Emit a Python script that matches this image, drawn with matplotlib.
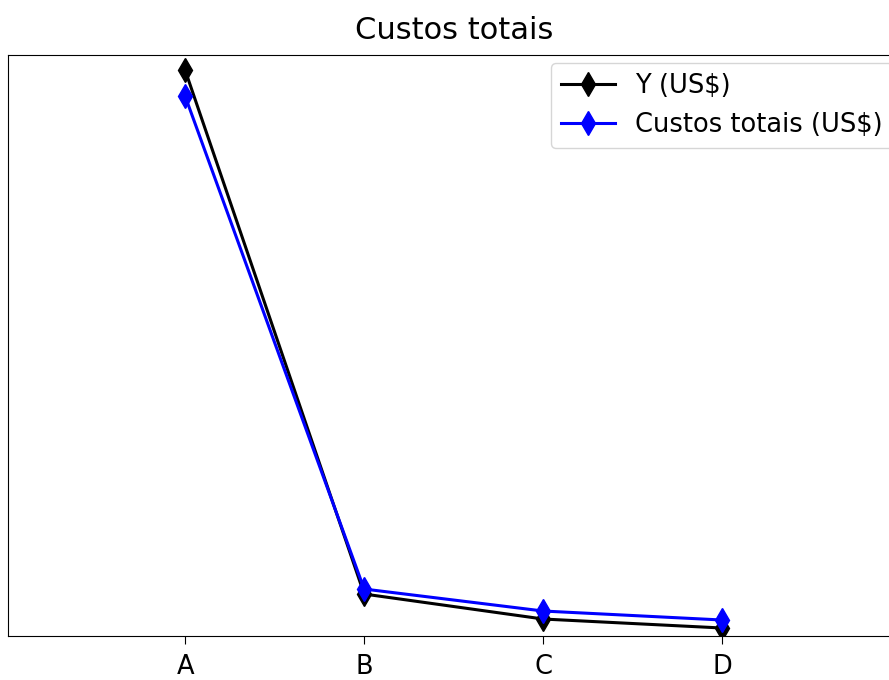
import matplotlib
matplotlib.use('Agg')
import matplotlib.pyplot as plt

categorias = ['A', 'B', 'C', 'D']
y_usd = [566, 42, 17, 8]
custos_totais = [540, 47, 25, 16]

plt.rcParams['font.size'] = 18.5

fig = plt.figure(figsize=(8.89, 6.8), dpi=100)
ax = fig.add_axes([0.009, 0.0647, 1.0045, 0.854])

x = range(len(categorias))
ax.plot(x, y_usd, color='black', marker='d', markersize=12.5, lw=2.2, label='Y (US$)')
ax.plot(x, custos_totais, color='blue', marker='d', markersize=12.5, lw=2.2, label='Custos totais (US$)')

ax.set_xticks(list(x))
ax.set_xticklabels(categorias)
ax.tick_params(axis='x', length=6, pad=7)
ax.set_yticks([])
ax.set_xlim(-0.99, 4.0)
ax.set_ylim(0, 581)
ax.set_title('Custos totais', fontsize=22, pad=12)
ax.legend(loc='upper right', handlelength=2.1, borderaxespad=0.3)

fig.savefig('out.png', dpi=100)
